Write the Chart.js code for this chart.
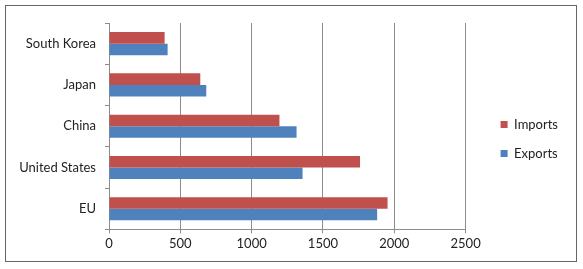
<!DOCTYPE html>
<html>
<head>
<meta charset="utf-8">
<script src="https://cdn.jsdelivr.net/npm/chart.js@4"></script>
<style>
    html, body { margin: 0; padding: 0; background: #fff; }
    #frame {
        position: absolute;
        left: 5px; top: 5px;
        width: 572px; height: 257px;
        box-sizing: border-box;
        border: 1px solid #666;
    }
    #chart { display: block; }
</style>
</head>
<body>
<div id="frame"><canvas id="chart" width="570" height="255"></canvas></div>
<script>
// Trade partners, top to bottom as drawn.
const countries = ["South Korea", "Japan", "China", "United States", "EU"];
const imports   = [390, 640, 1195, 1760, 1953];
const exports_  = [411, 682, 1315, 1357, 1880];

const xTicks = [0, 500, 1000, 1500, 2000, 2500];

const FONT = { family: "Lato, 'Open Sans', sans-serif", size: 13 };
const GRID = "#8c8c8c";

const chart = new Chart(document.getElementById("chart"), {
    type: "bar",
    data: {
        labels: countries,
        datasets: [
            { label: "Imports", data: imports,  backgroundColor: "#C0504D" },
            { label: "Exports", data: exports_, backgroundColor: "#4F81BD" }
        ]
    },
    options: {
        indexAxis: "y",
        responsive: false,
        animation: false,
        devicePixelRatio: 1,
        layout: { padding: { top: 17, bottom: 6, left: 0, right: 8 } },
        datasets: {
            bar: { barPercentage: 1.0, categoryPercentage: 0.56 }
        },
        scales: {
            x: {
                min: 0,
                max: 2500,
                afterBuildTicks: (scale) => { scale.ticks = xTicks.map(v => ({ value: v })); },
                grid: { color: GRID, tickLength: 4, drawTicks: true },
                border: { color: GRID },
                ticks: { font: FONT, color: "#222", padding: 3, callback: (v) => String(v) }
            },
            y: {
                afterFit: (scale) => { scale.width = 103; },
                grid: { display: true, drawOnChartArea: false, color: GRID, tickLength: 4, offset: true },
                border: { color: GRID },
                ticks: { font: FONT, color: "#222", padding: 9 }
            },
            // empty spacer between the plot and the legend
            gap: {
                type: "linear",
                position: "right",
                afterFit: (scale) => { scale.width = 19; },
                grid: { display: false },
                border: { display: false },
                ticks: { display: false }
            }
        },
        plugins: {
            legend: {
                position: "right",
                labels: {
                    font: FONT,
                    color: "#222",
                    boxWidth: 7,
                    boxHeight: 7,
                    padding: 16
                }
            },
            tooltip: { enabled: false }
        }
    }
});
</script>
</body>
</html>
